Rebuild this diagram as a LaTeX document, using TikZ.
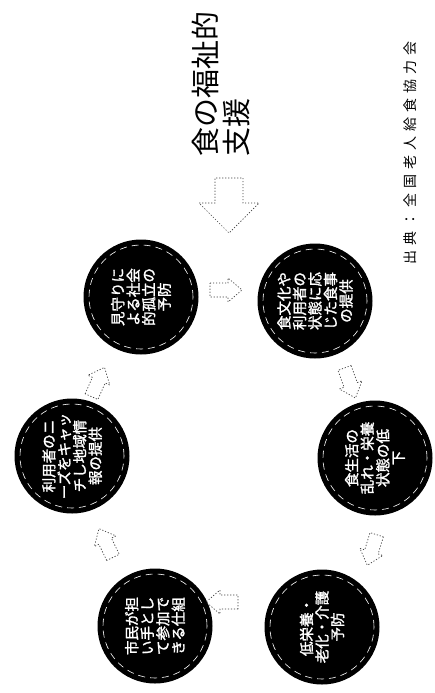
\documentclass[tikz,border=0pt]{standalone}
\usepackage{fontspec}
\newfontfamily\jp{Noto Sans CJK JP}
\newfontfamily\jpb{Noto Sans CJK JP}[FakeBold=1.6]
\newcommand{\kk}{\kern5pt}
\begin{document}
\begin{tikzpicture}[x=1pt,y=-1pt,
  bub/.style={circle, fill=black, minimum size=115pt, inner sep=0pt, text=white,
    rotate=90, align=center, font=\jpb\fontsize{14.5}{15.5}\selectfont},
  ring/.style={draw=white, dash pattern=on 7pt off 5pt, line width=0.6pt},
  arrowline/.style={draw=black!75, dash pattern=on 1.2pt off 1.8pt, line width=0.7pt},
  titletext/.style={rotate=90, align=left, inner sep=0pt, font=\jp\fontsize{29}{31}\selectfont},
  srctext/.style={rotate=90, inner sep=0pt, font=\jp\fontsize{14}{16}\selectfont},
  sarrow/.pic={\path[arrowline] (-16,-7) -- (2,-7) -- (2,-12) -- (16,0) -- (2,12) -- (2,7) -- (-16,7) -- cycle;},
  barrow/.pic={\path[arrowline] (-27,-14) -- (-2,-14) -- (-2,-30) -- (28,0) -- (-2,30) -- (-2,14) -- (-27,14) -- cycle;}
]
\useasboundingbox[fill=white] (0,0) rectangle (435,693);

% title and source
\node[titletext] (ttl) at (221,84) {食の福祉的\\支援};
\node[srctext] (src) at (410,153) {出\kk 典\kk ：\kk 全\kk 国\kk 老\kk 人\kk 給\kk 食\kk 協\kk 力\kk 会};

% big dotted arrow
\pic[rotate=-90] at (229,205) {barrow};

% circles
\node[bub] (c1) at (141,297) {見守りに\\よる社会\\的孤立の\\予防};
\node[bub] (c2) at (315,301) {食文化や\\利用者の\\状態に応\\じた食事\\の提供};
\node[bub] (c4) at (375,458) {食生活の\\乱れ・栄養\\状態の低\\下};
\node[bub] (c6) at (322,627) {低栄養・\\老化・介護\\予防};
\node[bub] (c5) at (155,626) {市民が担\\い手とし\\て参加で\\きる仕組};
\node[bub] (c3) at (72,456) {利用者のニ\\ーズをキャッ\\チし地域情\\報の提供};

\foreach \c in {c1,c2,c3,c4,c5,c6}{
  \draw[ring] (\c.center) circle[radius=52pt];
}

% small dotted arrows of the cycle
\pic[rotate=0] at (226,290) {sarrow};
\pic[rotate=-70] at (350,383) {sarrow};
\pic[rotate=-107] at (372,550) {sarrow};
\pic[rotate=180] at (222,602) {sarrow};
\pic[rotate=116] at (106,543) {sarrow};
\pic[rotate=66] at (98,382) {sarrow};
\end{tikzpicture}
\end{document}
